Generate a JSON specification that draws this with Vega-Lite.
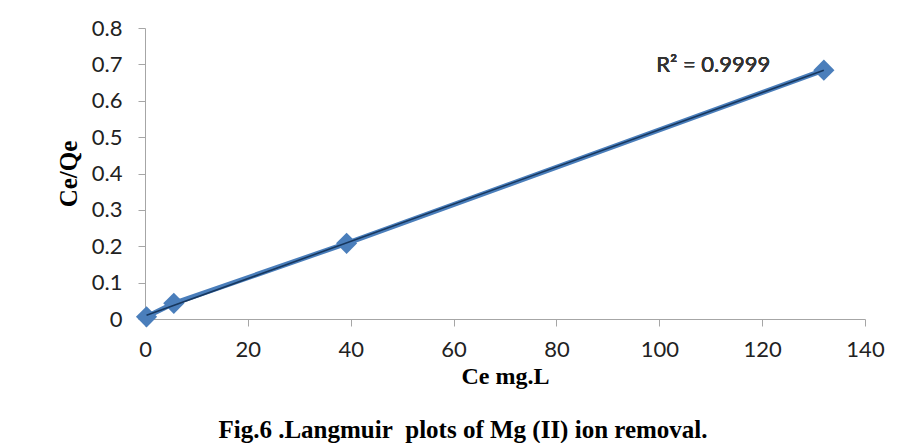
{
  "$schema": "https://vega.github.io/schema/vega-lite/v6.json",
  "autosize": "none",
  "width": 720,
  "height": 291,
  "padding": {"left": 145, "top": 28, "right": 36, "bottom": 124},
  "background": "white",
  "config": {"view": {"stroke": null}},
  "title": {
    "text": "Fig.6 .Langmuir\u00a0\u00a0plots of Mg (II) ion removal.",
    "orient": "bottom",
    "anchor": "middle",
    "offset": 30,
    "font": "Liberation Serif",
    "fontSize": 25,
    "fontWeight": "bold",
    "color": "black",
    "dx": -42
  },
  "data": {
    "values": [
      {"Ce": 0.3, "CeQe": 0.006},
      {"Ce": 5.6, "CeQe": 0.043},
      {"Ce": 39.2, "CeQe": 0.208},
      {"Ce": 132, "CeQe": 0.684}
    ]
  },
  "encoding": {
    "x": {
      "field": "Ce", "type": "quantitative",
      "scale": {"domain": [0, 140], "nice": false},
      "axis": {
        "values": [0, 20, 40, 60, 80, 100, 120, 140],
        "title": "Ce mg.L",
        "titleFont": "Liberation Serif", "titleFontSize": 24, "titleFontWeight": "bold", "titleColor": "black",
        "titlePadding": 4,
        "labelFont": "Lato", "labelFontSize": 22, "labelColor": "#222", "labelFlush": false,
        "labelPadding": 13, "tickSize": 7, "tickColor": "#a6a6a6", "domainColor": "#a6a6a6",
        "grid": false
      }
    },
    "y": {
      "field": "CeQe", "type": "quantitative",
      "scale": {"domain": [0, 0.8], "nice": false},
      "axis": {
        "values": [0, 0.1, 0.2, 0.3, 0.4, 0.5, 0.6, 0.7, 0.8],
        "format": "~g",
        "title": "Ce/Qe",
        "titleFont": "Liberation Serif", "titleFontSize": 25, "titleFontWeight": "bold", "titleColor": "black",
        "titlePadding": 10,
        "labelFont": "Lato", "labelFontSize": 22, "labelColor": "#222", "labelFlush": false,
        "labelPadding": 16, "tickSize": 7, "tickColor": "#a6a6a6", "domainColor": "#a6a6a6",
        "grid": false
      }
    }
  },
  "layer": [
    {"mark": {"type": "line", "color": "#4a7ebb", "strokeWidth": 5}},
    {"mark": {"type": "point", "shape": "diamond", "filled": true, "color": "#4a7ebb", "opacity": 1, "size": 450}},
    {
      "transform": [{"regression": "CeQe", "on": "Ce"}],
      "mark": {"type": "line", "color": "#17375e", "strokeWidth": 1.6}
    },
    {
      "mark": {"type": "text", "font": "Lato", "fontSize": 22, "color": "#333", "align": "center", "baseline": "middle"},
      "encoding": {
        "x": {"datum": 110.5},
        "y": {"datum": 0.697},
        "text": {"value": "R² = 0.9999"}
      }
    }
  ]
}
